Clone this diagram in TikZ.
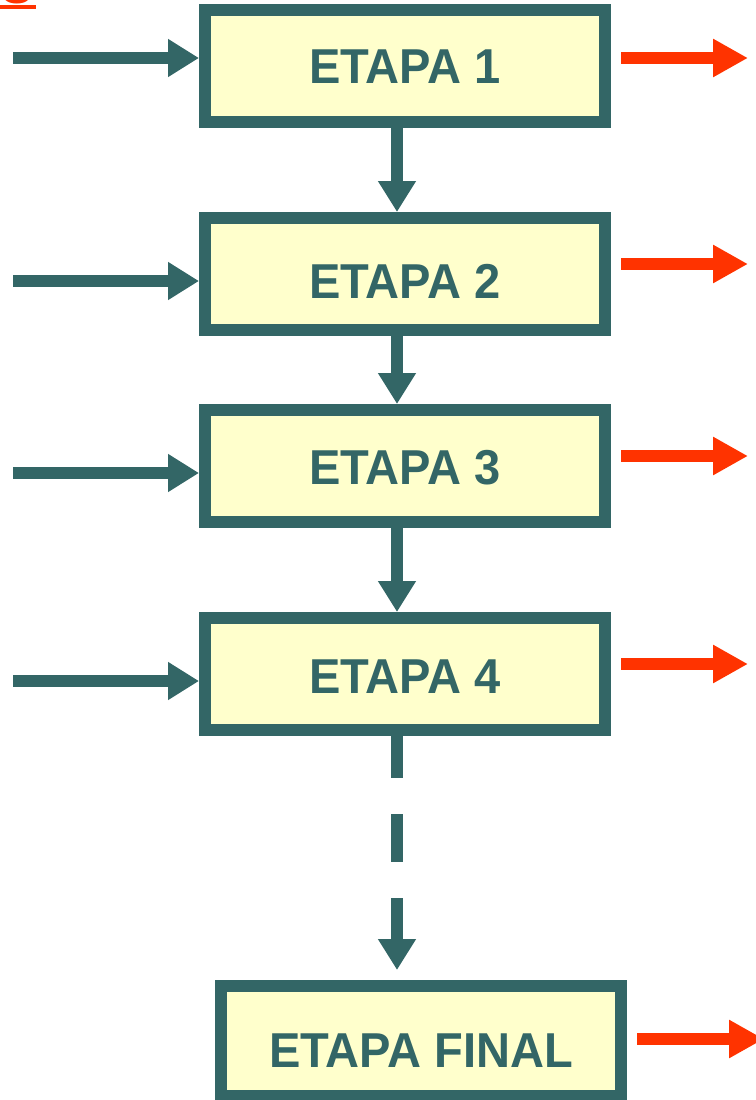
\documentclass[tikz,border=0pt]{standalone}
\usepackage{fontspec}
\newfontfamily\etapafont[FakeStretch=0.96]{Liberation Sans}
\usetikzlibrary{positioning,arrows.meta}
\definecolor{etapac}{HTML}{336666}
\definecolor{etapafill}{HTML}{FFFFCC}
\definecolor{salida}{HTML}{FF3300}
\tikzset{
  etapa/.style={draw=etapac, fill=etapafill, line width=12pt,
              minimum width=400pt, minimum height=112pt, inner sep=0pt,
              text=etapac, font=\etapafont\bfseries\fontsize{49}{49}\selectfont,
              text height=35pt, text depth=0pt},
  flujo/.style={draw=etapac, line width=12pt, -{Triangle[length=31pt,width=36pt]}},
  salflecha/.style={draw=salida, line width=12pt, -{Triangle[length=35pt,width=36pt]},
              shorten <=10pt},
}

\begin{document}
\begin{tikzpicture}[x=1pt,y=-1pt]
\useasboundingbox (0,0) rectangle (755,1100);

% etapas
\node[etapa] (e1) at (405,66) {ETAPA 1};
\node[etapa, text height=49pt] (e2) at (405,274) {ETAPA 2};
\node[etapa, text height=37pt] (e3) at (405,466) {ETAPA 3};
\node[etapa, text height=39pt] (e4) at (405,674) {ETAPA 4};
\node[etapa, minimum height=110pt, text height=52pt] (fin) at (421,1041) {ETAPA FINAL};

% titulo cortado
\node[anchor=base east, inner sep=0pt, text=salida,
      font=\etapafont\bfseries\fontsize{49}{49}\selectfont] (resto) at (33,3) {S};
\draw[salida, line width=4pt] (0,7) -- (36,7);

% entradas
\coordinate (ent1) at (13,58);
\coordinate (ent2) at (13,281);
\coordinate (ent3) at (13,473);
\coordinate (ent4) at (13,681);
\draw[flujo] (ent1) -- (ent1 -| e1.west);
\draw[flujo] (ent2) -- (ent2 -| e2.west);
\draw[flujo] (ent3) -- (ent3 -| e3.west);
\draw[flujo] (ent4) -- (ent4 -| e4.west);

% salidas
\coordinate (sal1) at (748,58);
\coordinate (sal2) at (748,264);
\coordinate (sal3) at (748,456);
\coordinate (sal4) at (748,664);
\coordinate (sal5) at (764,1039);
\draw[salflecha] (e1.east |- sal1) -- (sal1);
\draw[salflecha] (e2.east |- sal2) -- (sal2);
\draw[salflecha] (e3.east |- sal3) -- (sal3);
\draw[salflecha] (e4.east |- sal4) -- (sal4);
\draw[salflecha] (fin.east |- sal5) -- (sal5);

% flujo entre etapas
\draw[flujo] ([xshift=-8pt]e1.south) -- ([xshift=-8pt]e2.north);
\draw[flujo] ([xshift=-8pt]e2.south) -- ([xshift=-8pt]e3.north);
\draw[flujo] ([xshift=-8pt]e3.south) -- ([xshift=-8pt]e4.north);
\draw[flujo, dash pattern=on 42pt off 36pt on 48pt off 36pt on 200pt, shorten >=10pt]
  ([xshift=-8pt]e4.south) -- ([xshift=-24pt]fin.north);
\end{tikzpicture}
\end{document}
